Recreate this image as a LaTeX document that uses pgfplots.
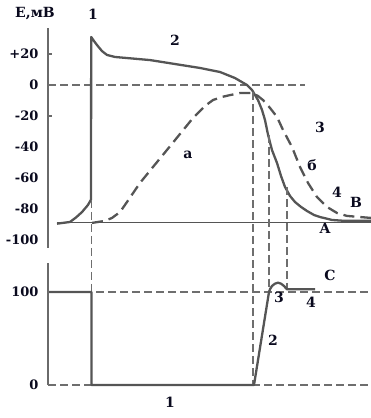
\documentclass[border=0pt]{standalone}
\usepackage{pgfplots}
\pgfplotsset{compat=1.18}
\usepackage{fontspec}
\setmainfont{DejaVu Serif}
\definecolor{crv}{HTML}{555555}
\definecolor{axc}{HTML}{6A6A6A}
\definecolor{dsh}{HTML}{6E6E6E}
\definecolor{txt}{HTML}{0A0A1E}
\newcommand{\lbl}{\fontsize{14}{16}\selectfont\bfseries}
\begin{document}
\begin{tikzpicture}[x=1pt,y=1pt]
\useasboundingbox (0,0) rectangle (371,418);
% ---------------- top panel: membrane potential ----------------
\begin{axis}[
  at={(48pt,170pt)}, anchor=south west,
  scale only axis, width=323pt, height=220pt,
  xmin=0, xmax=323, ymin=-105.2, ymax=36.8,
  axis x line=none, axis y line=left,
  axis line style={-, axc, line width=1.8pt},
  clip=false,
  ytick={-100,-80,-60,-40,-20,0,20},
  yticklabels={-100,-80,-60,-40,-20,0,+20},
  major tick length=0pt,
  yticklabel style={font=\fontsize{13}{15}\selectfont\bfseries, text=txt, xshift=-6pt},
  extra y ticks={-20,20}, extra y tick labels={},
  extra y tick style={major tick length=4pt, tick align=inside, tick style={axc, line width=1.2pt}},
]
% zero line
\addplot[dsh, line width=1.2pt, dash pattern=on 8pt off 4pt] coordinates {(0,0) (257,0)};
% resting level
\addplot[crv, line width=1pt] coordinates {(9,-89) (323,-89)};
% action potential (solid)
\addplot[crv, line width=2.3pt, line join=round] coordinates {
(9,-89.5) (22,-88.4) (28,-85.5) (34,-82) (40,-77.4) (43,-74)
(43.2,31) (46,28.4) (49,25.8) (54,21.9) (59,19.4) (67,18.1) (102,16.1)
(152,11) (172,8.4) (187,4.5) (199,0) (204,-3.2) (210,-9.7) (214,-16.1)
(217,-22.6) (220,-32) (224,-42) (229,-50.3) (233,-58.7) (237,-65.8)
(242,-71.6) (247,-75.5) (253,-78.7) (259,-81.3) (266,-83.9) (272,-85.2)
(284,-87.1) (297,-87.7) (323,-87.7)};
% dashed curve
\addplot[crv, line width=2.3pt, dash pattern=on 11pt off 6pt] coordinates {
(44,-89) (57,-87.7) (64,-85.8) (72,-82) (79,-75.5) (92,-63.2) (105,-52.9)
(119,-41.9) (132,-31.6) (145,-21.3) (157,-13.5) (165,-9.7) (174,-7.7)
(182,-6.5) (192,-5.2) (204,-5.2) (210,-7.1) (215,-9.7) (222,-14.8)
(229,-20.6) (235,-29) (244,-40) (252,-52.9) (260,-63.2) (269,-72.3)
(279,-78.7) (289,-82.6) (299,-84.5) (312,-85.2) (323,-85.8)};
\end{axis}
% ---------------- bottom panel ----------------
\begin{axis}[
  at={(48pt,33pt)}, anchor=south west,
  scale only axis, width=323pt, height=122pt,
  xmin=0, xmax=323, ymin=0, ymax=131.2,
  axis x line=none, axis y line=left,
  axis line style={-, axc, line width=1.8pt},
  clip=false,
  ytick={0,100}, yticklabels={0,100}, major tick length=0pt,
  yticklabel style={font=\fontsize{13}{15}\selectfont\bfseries, text=txt, xshift=-6pt},
]
\addplot[dsh, line width=1.2pt, dash pattern=on 8pt off 4pt] coordinates {(0,100) (323,100)};
\addplot[dsh, line width=1.2pt, dash pattern=on 8pt off 4pt] coordinates {(0,0) (323,0)};
% vertical guides
\addplot[dsh, line width=1.2pt, dash pattern=on 8pt off 4pt] coordinates {(43.5,199) (43.5,100)};
\addplot[dsh, line width=1.2pt, dash pattern=on 8pt off 4pt] coordinates {(205,315) (205,0)};
\addplot[dsh, line width=1.2pt, dash pattern=on 8pt off 4pt] coordinates {(221,269) (221,100)};
\addplot[dsh, line width=1.2pt, dash pattern=on 8pt off 4pt] coordinates {(239,213) (239,103)};
% conductance curve
\addplot[crv, line width=2.3pt, line join=round] coordinates {
(1,100) (43.5,100) (43.5,0) (206,0) (221,100) (222,103) (224,106.5) (227,109)
(230,110) (233,109) (236,106.5) (238,104) (239,103) (267,103)};
\end{axis}
% ---------------- labels ----------------
\begin{scope}[every node/.style={text=txt, font=\lbl, inner sep=0pt}]
\node at (35,404) {Е,мВ};
\node at (93,404) {1};
\node at (175,378) {2};
\node at (320,291) {3};
\node at (188,263) {а};
\node at (312,253) {б};
\node at (337,226) {4};
\node at (356,216) {В};
\node at (325,190) {А};
\node at (330,143) {С};
\node at (279,121) {3};
\node at (311,116) {4};
\node at (273,78) {2};
\node at (170,16) {1};
\end{scope}
\end{tikzpicture}
\end{document}
